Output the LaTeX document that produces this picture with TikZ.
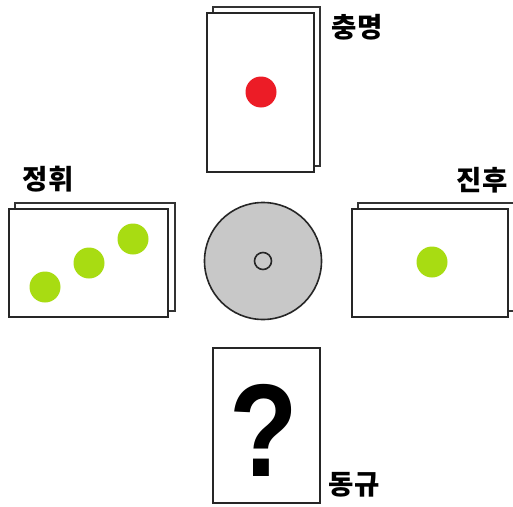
\documentclass[tikz,border=0pt]{standalone}
\usepackage{fontspec}
\newfontfamily\kr{Noto Sans CJK KR}
\newfontfamily\qf{Liberation Sans}
\definecolor{dotgreen}{HTML}{A8DC12}
\definecolor{dotred}{HTML}{EC1C26}
\definecolor{discgray}{HTML}{C8C8C8}
\begin{document}
\begin{tikzpicture}[x=1pt,y=-1pt,
  cardback/.style={draw=black!80,line width=2pt,fill=white},
  cardfront/.style={draw=black!85,line width=2pt,fill=white},
  dot/.style={circle,inner sep=0pt,minimum size=31pt},
  lab/.style={font=\kr\bfseries\fontsize{27.5}{27.5}\selectfont,inner sep=0pt}]
\useasboundingbox[fill=white] (0,0) rectangle (513,506);
% top card
\draw[cardback] (213,7) rectangle (320,166);
\draw[cardfront] (207,13) rectangle (314,172);
\node[dot,fill=dotred] (red) at (261,92) {};
\node[lab] (l1) at (357,27) {충명};
% left card
\draw[cardback] (15,203) rectangle (175,311);
\draw[cardfront] (9,209) rectangle (168,317);
\node[dot,fill=dotgreen] (g1) at (45,287) {};
\node[dot,fill=dotgreen] (g2) at (89,263) {};
\node[dot,fill=dotgreen] (g3) at (133,239) {};
\node[lab] (l2) at (48,179) {정휘};
% right card
\draw[cardback] (358,203) rectangle (514,311);
\draw[cardfront] (352,209) rectangle (508,317);
\node[dot,fill=dotgreen] (g4) at (432,262) {};
\node[lab] (l3) at (482,180) {진후};
% disc
\node[circle,draw=black!85,line width=1.6pt,fill=discgray,minimum size=117pt,inner sep=0pt] (disc) at (263,261) {};
\node[circle,draw=black!85,line width=1.6pt,fill=discgray,minimum size=17pt,inner sep=0pt] (hole) at (263,261) {};
% bottom card
\draw[cardfront] (213,348) rectangle (320,503);
\node[font=\qf\bfseries\fontsize{132}{132}\selectfont,inner sep=0pt,xscale=0.85] (q) at (264,430) {?};
\node[lab] (l4) at (354,485) {동규};
\end{tikzpicture}
\end{document}
